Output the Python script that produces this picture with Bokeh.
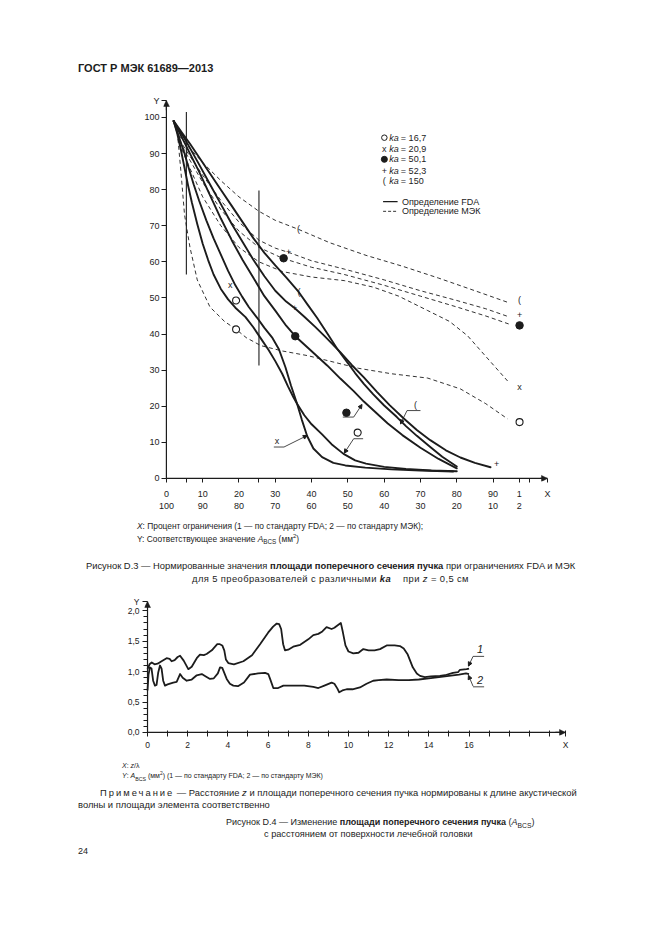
from bokeh.plotting import figure
from bokeh.models import (Div, FixedTicker, LinearAxis, Range1d, Arrow, NormalHead)
from bokeh.layouts import column
from bokeh.embed import file_html
from bokeh.resources import INLINE
from bokeh.core.properties import value

FONT = "Liberation Sans"
INK = "#1c1c1c"

# ---------------- Figure D.3 data ----------------
# FDA (solid) curves
o_fda_x = [2, 3, 4, 5, 6, 7, 8.5, 10, 11.5, 13, 15, 17, 19, 21.8, 24, 26, 28.2, 30, 31.9, 33.5, 35, 36, 38, 40, 42.9, 45.5, 48.8, 52, 55, 60, 66, 73, 80]
o_fda_y = [99, 95.5, 91, 86, 81, 76.5, 70.5, 65, 60.5, 56.5, 52.5, 49.6, 47.3, 44.7, 41.8, 38.8, 35.5, 32.5, 29, 25.5, 22.5, 20.7, 17.5, 15, 12.2, 9.5, 6.8, 5, 4.1, 3.2, 2.6, 2.2, 2.0]
x_fda_x = [2, 3, 4, 5, 6, 7.5, 9, 11, 13, 15, 17, 19, 20.9, 22.7, 25, 27, 29.1, 31, 32.8, 34.3, 36, 37.3, 38.8, 40.5, 42.9, 46, 49.3, 54.8, 62, 70, 79]
x_fda_y = [99, 96, 93, 90, 86.5, 81.5, 77, 71.5, 66.5, 62, 57.5, 53.5, 50.3, 47.5, 44.5, 41.7, 39.1, 35.8, 30.8, 25.8, 20.7, 16.3, 11.7, 8.3, 5.9, 4.3, 3.6, 3.0, 2.5, 2.2, 1.9]
d_fda_x = [2, 3, 4.5, 6.5, 9, 12, 15, 18, 21, 24, 27, 30, 33, 35.5, 39.5, 44.3, 48, 51.6, 54.4, 57.1, 61, 65, 70, 75, 80]
d_fda_y = [99, 97, 94, 90, 85, 78.5, 72, 66, 60.5, 55.5, 50.5, 46.5, 42.3, 39.4, 35.7, 31.3, 27.6, 24.2, 21.3, 18.8, 15.2, 12.0, 8.5, 5.4, 2.8]
p_fda_x = [2, 3, 4.5, 6.5, 9, 12, 15, 18, 21, 24, 27, 30, 33, 35.3, 38, 41, 44, 47.9, 51, 54.4, 58, 61.5, 65.4, 69, 72.7, 77, 81, 85, 89.3]
p_fda_y = [99, 97.3, 95, 91.5, 87, 81.5, 76, 70.5, 65.5, 60.5, 56, 52, 49, 47.2, 44.8, 42, 39, 35, 31.5, 28, 24, 20.3, 16.6, 13.4, 10.6, 7.8, 5.8, 4.3, 3.1]
b_fda_x = [2, 3, 4.5, 6.5, 9, 12, 15, 18, 21, 24, 27, 30, 33, 36.5, 39, 41.5, 44.3, 47, 49.8, 52, 54.4, 57, 60, 63.5, 66, 69, 72.7, 76, 80]
b_fda_y = [99, 97.6, 95.5, 92.7, 89, 84.5, 80, 75.5, 71, 66.5, 62.5, 59, 55.7, 51.6, 48, 44.5, 40.2, 36, 32.2, 29.2, 26.2, 23.3, 20.2, 17, 14.5, 11.8, 8.7, 6, 3.3]

# IEC (dashed) curves
b_iec_x = [3.5, 6, 10, 15, 20, 25.5, 30, 36.4, 45, 55, 65, 75, 85, 94]
b_iec_y = [95, 92, 87.5, 82.5, 78, 74, 71.5, 69, 65.3, 61.8, 58.8, 55.5, 52, 48.8]
p_iec_x = [3.5, 6, 10, 15, 20, 25.5, 30, 34, 40, 49, 60, 70, 80, 88, 94.3]
p_iec_y = [94, 90, 84, 77, 71, 66, 63.8, 62.5, 60.3, 58, 55, 52, 49.3, 47, 44.8]
d_iec_x = [3.5, 6, 10, 15, 20, 25.5, 32, 40, 49, 60, 70, 80, 88, 94.3]
d_iec_y = [93.5, 89, 82, 74.5, 68.5, 64, 61, 58.5, 56.5, 53.5, 50.5, 47.5, 45, 42.8]
x_iec_x = [3.5, 6, 10, 15, 20, 25.5, 32, 40, 49, 57, 64, 72, 78, 83, 88, 94]
x_iec_y = [93, 87, 78, 70, 64, 60, 57.3, 55.8, 54.8, 53, 50.5, 46.5, 43.5, 39.5, 33.8, 27]
o_iec_x = [3, 4, 5, 6.5, 8.5, 12, 16, 19.2, 22, 26, 32, 39, 45, 53, 62, 72, 81, 88, 94]
o_iec_y = [96, 85, 73, 64, 55, 47.5, 43.5, 41.3, 39, 36.8, 35.3, 34, 32.5, 30.5, 29, 27.8, 24.8, 20.7, 16.5]

# markers: open circles, filled circles, and character markers
open_x = [19.2, 19.2, 97.3, 52.7]
open_y = [49.3, 41.3, 15.6, 12.7]
fill_x = [35.5, 32.3, 97.3, 49.6]
fill_y = [39.4, 61.0, 42.4, 18.2]
char_x = [17.6, 35.3, 36.5, 33.7, 36.4, 97.3, 97.3, 97.3, 30.5, 68.6, 91.0]
char_y = [53.7, 47.2, 51.6, 62.7, 69.1, 49.3, 45.3, 25.3, 10.3, 20.4, 4.0]
char_t = ["x", "+", "(", "+", "(", "(", "+", "x", "x", "(", "+"]

# legend
leg_y = [94.4, 91.4, 88.4, 85.3, 82.3]
leg_vals = ["= 16,7", "= 20,9", "= 50,1", "= 52,3", "= 150"]
line_leg_y = [76.7, 74.0]
line_leg_t = ["Определение FDA", "Определение МЭК"]

# axis ticks (two label rows on X)
x_ticks = [0, 5.5, 10, 20, 25.5, 30, 40, 50, 60, 70, 80, 90, 97.2, 100, 105]
x_top = ["0", "", "10", "20", "", "30", "40", "50", "60", "70", "80", "90", "1", "", "X"]
x_bot = ["100", "", "90", "80", "", "70", "60", "50", "40", "30", "20", "10", "2", "", ""]
y_ticks = [0, 10, 20, 30, 40, 50, 60, 70, 80, 90, 100, 104.7]
y_labels = ["0", "10", "20", "30", "40", "50", "60", "70", "80", "90", "100", "Y"]

# ---------------- Figure D.4 data ----------------
c1_x = [0.0, 0.1, 0.21, 0.35, 0.5, 0.7, 0.95, 1.1, 1.2, 1.35, 1.5, 1.62, 1.8, 2.03, 2.2, 2.45, 2.61, 2.8, 2.94, 3.2, 3.47, 3.6, 3.72, 3.82, 3.9, 4.02, 4.3, 4.77, 5.2, 5.6, 6.0, 6.25, 6.43, 6.55, 6.65, 6.75, 6.84, 7.0, 7.25, 7.6, 8.0, 8.25, 8.5, 8.7, 8.91, 9.16, 9.3, 9.5, 9.62, 9.72, 9.85, 10.0, 10.24, 10.5, 10.74, 11.0, 11.3, 11.57, 11.9, 12.3, 12.56, 12.75, 12.95, 13.2, 13.4, 13.56, 13.8, 14.1, 14.55, 14.8, 15.2, 15.45, 15.55, 15.88, 16.0]
c1_y = [1.04, 1.12, 1.15, 1.12, 1.13, 1.17, 1.22, 1.21, 1.17, 1.19, 1.24, 1.26, 1.18, 1.04, 1.08, 1.22, 1.28, 1.27, 1.29, 1.35, 1.45, 1.45, 1.43, 1.35, 1.20, 1.14, 1.12, 1.17, 1.27, 1.45, 1.64, 1.74, 1.79, 1.78, 1.70, 1.45, 1.35, 1.36, 1.41, 1.44, 1.53, 1.6, 1.62, 1.66, 1.73, 1.70, 1.72, 1.77, 1.80, 1.65, 1.43, 1.33, 1.30, 1.31, 1.37, 1.35, 1.35, 1.37, 1.43, 1.43, 1.42, 1.38, 1.28, 1.07, 0.97, 0.93, 0.91, 0.92, 0.93, 0.94, 0.98, 0.99, 1.03, 1.04, 1.05]
c2_x = [0.0, 0.05, 0.12, 0.2, 0.28, 0.37, 0.45, 0.53, 0.62, 0.7, 0.78, 0.87, 1.0, 1.28, 1.45, 1.62, 1.75, 1.95, 2.2, 2.45, 2.7, 2.9, 3.11, 3.3, 3.5, 3.61, 3.72, 3.94, 4.1, 4.27, 4.5, 4.8, 5.1, 5.5, 5.85, 6.01, 6.1, 6.26, 6.5, 6.76, 7.2, 7.8, 8.25, 8.5, 8.8, 9.16, 9.3, 9.45, 9.54, 9.7, 9.91, 10.2, 10.57, 10.9, 11.23, 11.5, 11.9, 12.5, 13.0, 13.5, 14.0, 14.5, 15.0, 15.5, 15.85, 16.0]
c2_y = [0.69, 0.95, 1.07, 1.05, 0.85, 0.77, 0.78, 0.98, 1.10, 1.05, 0.85, 0.77, 0.79, 0.82, 0.83, 0.96, 0.9, 0.85, 0.87, 0.94, 0.96, 0.92, 0.88, 0.89, 0.97, 1.07, 1.06, 0.88, 0.8, 0.77, 0.76, 0.82, 0.95, 0.97, 0.98, 0.96, 0.88, 0.73, 0.73, 0.77, 0.77, 0.77, 0.75, 0.73, 0.77, 0.82, 0.80, 0.72, 0.66, 0.69, 0.71, 0.71, 0.74, 0.80, 0.85, 0.86, 0.87, 0.86, 0.86, 0.87, 0.89, 0.91, 0.93, 0.95, 0.97, 0.96]
x2_ticks = list(range(0, 21)) + [20.8]
x2_labels = [str(t) if (t % 2 == 0 and t <= 16) else "" for t in range(0, 21)] + ["X"]
y2_ticks = [0, 0.5, 1.0, 1.5, 2.0, 2.152]
y2_labels = ["0,0", "0,5", "1,0", "1,5", "2,0", "Y"]
y2_minor = [0.1, 0.2, 0.3, 0.4, 0.6, 0.7, 0.8, 0.9, 1.1, 1.2, 1.3, 1.4, 1.6, 1.7, 1.8, 1.9]

W = 655


def ax_style(ax, size):
    ax.major_label_text_font = FONT
    ax.major_label_text_font_size = size
    ax.major_label_text_color = INK
    ax.axis_line_color = None
    ax.major_tick_line_color = INK
    ax.major_tick_line_width = 1
    ax.minor_tick_line_color = None


def no_align(p):
    if "frame_align" in p.properties():
        p.frame_align = False


def head():
    return NormalHead(size=6, fill_color=INK, line_color=INK, line_width=0.5)


# ================= Figure 1 =================
p1 = figure(width=W, height=433, x_range=Range1d(-0.8, 105), y_range=Range1d(-0.85, 104.7),
            output_backend="svg", toolbar_location=None, x_axis_type=None, y_axis_type=None,
            min_border_left=163, min_border_right=W - 547, min_border_top=10, min_border_bottom=42)
no_align(p1)
p1.outline_line_color = None
p1.background_fill_color = None
p1.border_fill_color = None

yax = LinearAxis(ticker=FixedTicker(ticks=y_ticks), major_tick_out=2, major_tick_in=3, major_label_standoff=2,
                 major_label_overrides={t: l for t, l in zip(y_ticks, y_labels)})
ax_style(yax, "9px")
p1.add_layout(yax, "left")
xax1 = LinearAxis(ticker=FixedTicker(ticks=x_ticks), major_tick_out=1, major_tick_in=3, major_label_standoff=6,
                  major_label_overrides={t: l for t, l in zip(x_ticks, x_top)})
ax_style(xax1, "9px")
p1.add_layout(xax1, "below")
xax2 = LinearAxis(ticker=FixedTicker(ticks=x_ticks), major_tick_out=0, major_tick_in=0, major_label_standoff=1,
                  major_label_overrides={t: l for t, l in zip(x_ticks, x_bot)})
ax_style(xax2, "9px")
xax2.major_tick_line_color = None
p1.add_layout(xax2, "below")

# axis lines with arrows
p1.line([0, 105], [0, 0], line_color=INK, line_width=1.2)
p1.line([0, 0], [0, 104.7], line_color=INK, line_width=1.2)
p1.add_layout(Arrow(end=head(), x_start=103, y_start=0, x_end=105, y_end=0, line_color=INK, line_width=1.2))
p1.add_layout(Arrow(end=head(), x_start=0, y_start=102, x_end=0, y_end=104.7, line_color=INK, line_width=1.2))

for xs, ys in [(o_fda_x, o_fda_y), (x_fda_x, x_fda_y), (d_fda_x, d_fda_y), (p_fda_x, p_fda_y), (b_fda_x, b_fda_y)]:
    p1.line(xs, ys, line_color=INK, line_width=1.9, line_join="round", line_cap="round")
for xs, ys in [(b_iec_x, b_iec_y), (p_iec_x, p_iec_y), (d_iec_x, d_iec_y), (x_iec_x, x_iec_y), (o_iec_x, o_iec_y)]:
    p1.line(xs, ys, line_color=INK, line_width=0.9, line_dash="4 3")

# vertical reference lines
p1.segment(x0=[5.5, 25.5], y0=[56.5, 31.3], x1=[5.5, 25.5], y1=[101.5, 79.8], line_color=INK, line_width=1.1)

# markers
p1.scatter(open_x, open_y, marker="circle", size=7, fill_color="white", line_color=INK, line_width=1.1)
p1.scatter(fill_x, fill_y, marker="circle", size=7.5, fill_color=INK, line_color=INK)
p1.text(char_x, char_y, text=char_t, text_font=value(FONT), text_font_size="9px", text_color=INK,
        text_align="center", text_baseline="middle")

# leader lines for curve labels
p1.segment(x0=[29.6, 48.6, 51.6, 66.3], y0=[8.7, 17.0, 11.0, 18.8], x1=[32.4, 51.6, 54.2, 70.0], y1=[8.7, 17.0, 11.0, 18.8],
           line_color=INK, line_width=0.8)
for xs, ys, xe, ye in [(32.4, 8.7, 38.8, 11.9), (51.6, 17.0, 53.9, 20.5), (51.6, 11.0, 49.0, 7.0), (66.3, 18.8, 64.5, 15.1)]:
    p1.add_layout(Arrow(end=NormalHead(size=4, fill_color=INK, line_color=INK), x_start=xs, y_start=ys,
                        x_end=xe, y_end=ye, line_color=INK, line_width=0.8))

# legend
p1.scatter([60.05], [leg_y[0]], marker="circle", size=5.5, fill_color="white", line_color=INK, line_width=1)
p1.text([60.05], [leg_y[1]], text=["x"], text_font=value(FONT), text_font_size="9px", text_color=INK,
        text_align="center", text_baseline="middle")
p1.scatter([60.05], [leg_y[2]], marker="circle", size=6, fill_color=INK, line_color=INK)
p1.text([60.05, 60.05], [leg_y[3], leg_y[4]], text=["+", "("], text_font=value(FONT), text_font_size="9px",
        text_color=INK, text_align="center", text_baseline="middle")
p1.text([61.4] * 5, leg_y, text=["ka"] * 5, text_font=value(FONT), text_font_size="9px", text_font_style="italic",
        text_color=INK, text_align="left", text_baseline="middle")
p1.text([64.6] * 5, leg_y, text=leg_vals, text_font=value(FONT), text_font_size="9px",
        text_color=INK, text_align="left", text_baseline="middle")
p1.line([59.7, 63.7], [line_leg_y[0]] * 2, line_color=INK, line_width=1.3)
p1.line([59.7, 63.7], [line_leg_y[1]] * 2, line_color=INK, line_width=0.9, line_dash="3 2")
p1.text([64.9, 64.9], line_leg_y, text=line_leg_t, text_font=value(FONT), text_font_size="9px",
        text_color=INK, text_align="left", text_baseline="middle")

# ================= Figure 2 =================
p2 = figure(width=W, height=168, x_range=Range1d(-0.15, 20.8), y_range=Range1d(-0.05, 2.152),
            output_backend="svg", toolbar_location=None, x_axis_type=None, y_axis_type=None,
            min_border_left=144, min_border_right=W - 565, min_border_top=9, min_border_bottom=25)
no_align(p2)
p2.outline_line_color = None
p2.background_fill_color = None
p2.border_fill_color = None
yax2 = LinearAxis(ticker=FixedTicker(ticks=y2_ticks, minor_ticks=y2_minor), major_tick_out=2, major_tick_in=3,
                  minor_tick_out=1, minor_tick_in=3, major_label_standoff=3,
                  major_label_overrides={t: l for t, l in zip(y2_ticks, y2_labels)})
ax_style(yax2, "8.5px")
yax2.minor_tick_line_color = INK
p2.add_layout(yax2, "left")
xax3 = LinearAxis(ticker=FixedTicker(ticks=x2_ticks), major_tick_out=1, major_tick_in=5, major_label_standoff=3,
                  major_label_overrides={t: l for t, l in zip(x2_ticks, x2_labels)})
ax_style(xax3, "8.5px")
p2.add_layout(xax3, "below")

p2.line([0, 20.8], [0, 0], line_color=INK, line_width=1.2)
p2.line([0, 0], [0, 2.152], line_color=INK, line_width=1.2)
p2.add_layout(Arrow(end=head(), x_start=20.3, y_start=0, x_end=20.8, y_end=0, line_color=INK, line_width=1.2))
p2.add_layout(Arrow(end=head(), x_start=0, y_start=2.05, x_end=0, y_end=2.152, line_color=INK, line_width=1.2))

p2.line(c1_x, c1_y, line_color=INK, line_width=1.8, line_join="round")
p2.line(c2_x, c2_y, line_color=INK, line_width=1.8, line_join="round")

p2.text([16.55, 16.55], [1.37, 0.86], text=["1", "2"], text_font=value(FONT), text_font_size="11px",
        text_font_style="italic", text_color=INK, text_align="center", text_baseline="middle")
p2.segment(x0=[16.2, 16.2], y0=[1.25, 0.75], x1=[16.75, 16.75], y1=[1.25, 0.75], line_color=INK, line_width=0.8)
for ys, ye in [(1.25, 1.09), (0.76, 0.94)]:
    p2.add_layout(Arrow(end=NormalHead(size=4, fill_color=INK, line_color=INK), x_start=16.2, y_start=ys,
                        x_end=15.97, y_end=ye, line_color=INK, line_width=0.8))

# ================= text blocks =================
BASE = "position:relative;width:%dpx;font-family:'Liberation Sans',Arial,sans-serif;color:#1c1c1c;" % W


def block(h, items):
    html = ['<div style="%sheight:%dpx;">' % (BASE, h)]
    for it in items:
        left, top, size, content = it[:4]
        extra = it[4] if len(it) > 4 else ""
        if left is None:
            pos = "left:0;width:661px;text-align:center;"
        else:
            pos = "left:%spx;" % left
        html.append('<div style="position:absolute;%stop:%spx;font-size:%spx;line-height:1;white-space:nowrap;%s">%s</div>'
                    % (pos, top, size, extra, content))
    html.append("</div>")
    return Div(text="".join(html), width=W, height=h, margin=(0, 0, 0, 0))


ABCS = "<i>A</i><sub style='font-size:0.75em'>BCS</sub>"
hdr = block(90, [(78, 63, 11, "ГОСТ Р МЭК 61689—2013", "font-weight:bold;")])
cap1 = block(69, [
    (137, -1, 8.4, "<i>X</i>: Процент ограничения (1 — по стандарту FDA; 2 — по стандарту МЭК);"),
    (137, 11, 8.4, "Y: Соответствующее значение " + ABCS + " (мм<sup style='font-size:0.7em'>2</sup>)"),
    (None, 38, 9.4, "Рисунок D.3 — Нормированные значения <b>площади поперечного сечения пучка</b> при ограничениях FDA и МЭК"),
    (None, 51, 9.4, "для 5 преобразователей с различными <b><i>ka</i></b>&nbsp;&nbsp;&nbsp; при <i>z</i> = 0,5 см", "letter-spacing:0.4px;"),
])
cap2 = block(167, [
    (122, 2, 7, "<i>X</i>: <i>z</i>/λ"),
    (122, 12, 7, "<i>Y</i>: " + ABCS + " (мм<sup style='font-size:0.7em'>2</sup>) (1 — по стандарту FDA; 2 — по стандарту МЭК)"),
    (100, 28, 9.4, "<span style='letter-spacing:2px'>Примечание</span> — Расстояние <i>z</i> и площади поперечного сечения пучка нормированы к длине акустической"),
    (78, 40, 9.4, "волны и площади элемента соответственно"),
    (226, 58, 9, "Рисунок D.4 — Изменение <b>площади поперечного сечения пучка</b> (" + ABCS + ")"),
    (264, 70, 9.2, "с расстоянием от поверхности лечебной головки"),
    (78, 87, 9, "24"),
])

layout = column(hdr, p1, cap1, p2, cap2, spacing=0)
open("out.html", "w").write(file_html(layout, INLINE))
